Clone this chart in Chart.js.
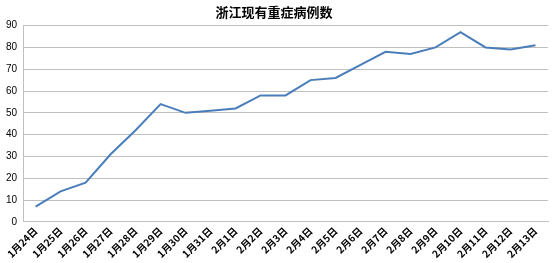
<!DOCTYPE html>
<html>
<head>
<meta charset="utf-8">
<script src="https://cdn.jsdelivr.net/npm/chart.js@4/dist/chart.umd.min.js"></script>
<style>
  html, body { margin: 0; padding: 0; background: #fff; }
  #wrap { width: 554px; height: 263px; }
</style>
</head>
<body>
<div id="wrap"><canvas id="chart" width="554" height="263"></canvas></div>
<script>
// 日期
const dates = ['1月24日', '1月25日', '1月26日', '1月27日', '1月28日', '1月29日', '1月30日',
  '1月31日', '2月1日', '2月2日', '2月3日', '2月4日', '2月5日', '2月6日', '2月7日',
  '2月8日', '2月9日', '2月10日', '2月11日', '2月12日', '2月13日'];
// 现有重症病例数
const severeCases = [7, 14, 18, 31, 42, 54, 50, 51, 52, 58, 58, 65, 66, 72, 78, 77, 80, 87, 80, 79, 81];
const yMin = 0, yMax = 90, yStep = 10;

const ctx = document.getElementById('chart').getContext('2d');
new Chart(ctx, {
  type: 'line',
  data: {
    labels: dates,
    datasets: [{
      label: '浙江现有重症病例数',
      data: severeCases,
      borderColor: '#4a7ebb',
      borderWidth: 2,
      pointRadius: 0,
      tension: 0,
      fill: false
    }]
  },
  options: {
    responsive: false,
    animation: false,
    layout: { padding: { left: 0, right: 6, top: 2, bottom: 0 } },
    plugins: {
      legend: { display: false },
      tooltip: { enabled: false },
      title: {
        display: true,
        text: '浙江现有重症病例数',
        color: '#000',
        font: { family: '"Noto Sans CJK SC"', size: 13, weight: 'bold' },
        padding: { top: 2, bottom: 6 }
      }
    },
    scales: {
      x: {
        offset: true,
        grid: { display: false, drawTicks: false },
        border: { color: '#bfbfbf', width: 1 },
        ticks: {
          color: '#000',
          minRotation: 45,
          maxRotation: 45,
          autoSkip: false,
          padding: 3,
          font: { family: '"Noto Sans CJK SC"', size: 10, weight: 'bold' }
        }
      },
      y: {
        min: yMin,
        max: yMax,
        grid: { color: '#bfbfbf', drawTicks: false },
        border: { color: '#bfbfbf', width: 1 },
        ticks: {
          stepSize: yStep,
          color: '#000',
          padding: 6,
          font: { family: '"Liberation Sans"', size: 10 }
        }
      }
    }
  }
});
</script>
</body>
</html>
